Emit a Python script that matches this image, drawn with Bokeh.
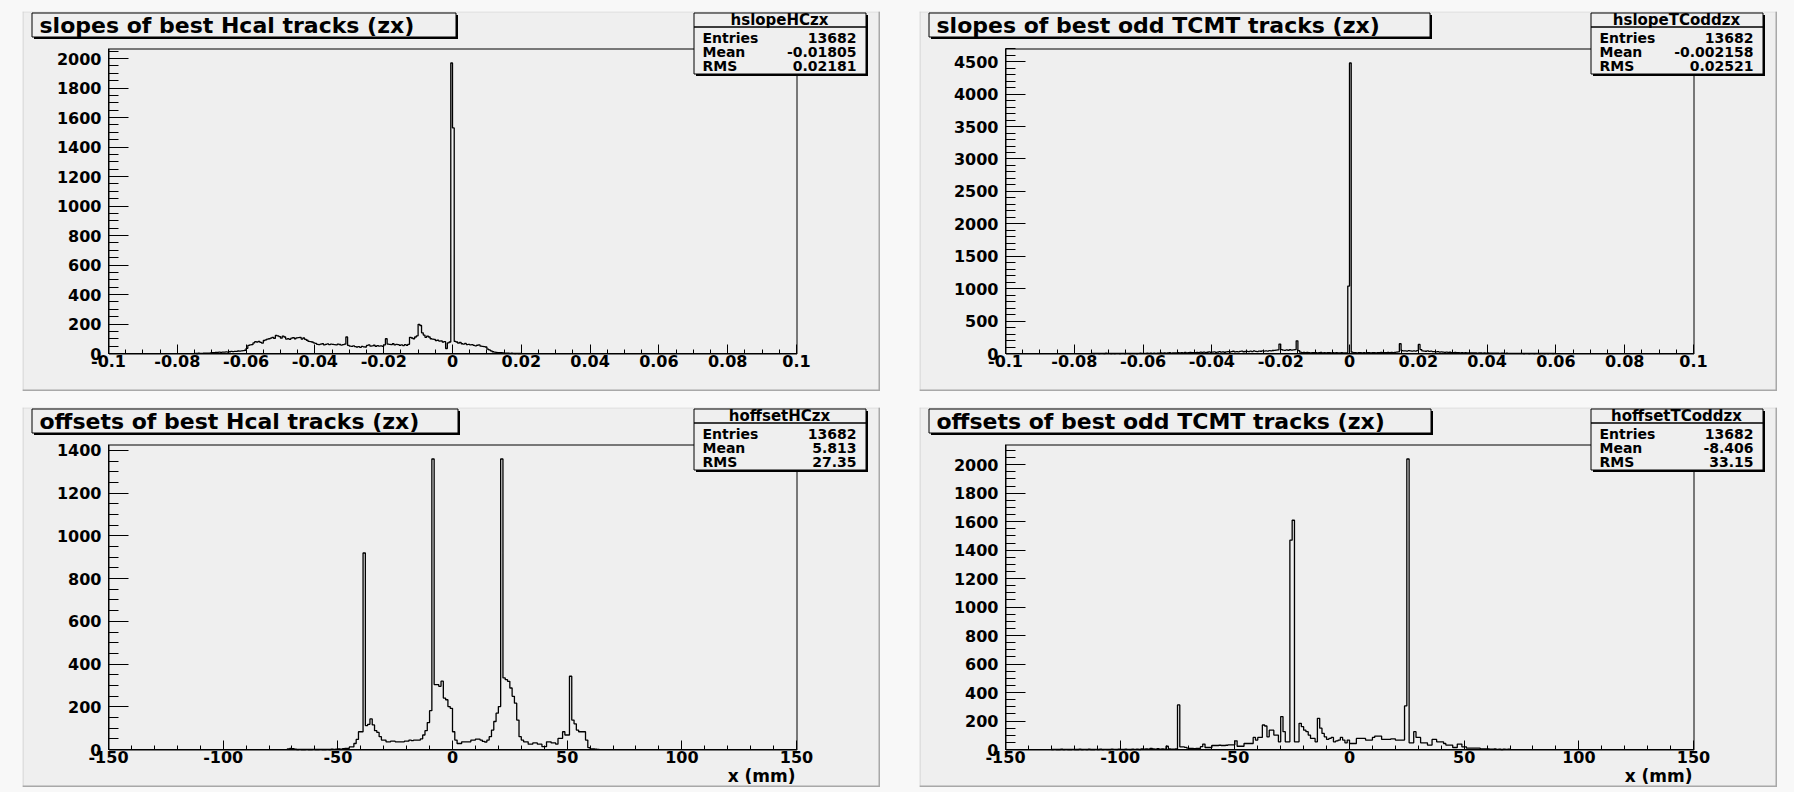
import numpy as np
from bokeh.plotting import figure
from bokeh.layouts import row, column
from bokeh.models import Range1d, FixedTicker, BoxAnnotation, Label
from bokeh.embed import file_html
from bokeh.resources import INLINE

# ---------------- data ----------------
slope_ticks = [-0.1, -0.08, -0.06, -0.04, -0.02, 0, 0.02, 0.04, 0.06, 0.08, 0.1]
slope_tick_labels = ["-0.1", "-0.08", "-0.06", "-0.04", "-0.02", "0", "0.02", "0.04", "0.06", "0.08", "0.1"]
offset_ticks = [-150, -100, -50, 0, 50, 100, 150]
offset_tick_labels = ["-150", "-100", "-50", "0", "50", "100", "150"]

slope_bin_width = 0.0005
offset_bin_width = 1.0

# hslopeHCzx : bins of 0.0005 starting at -0.075
hslopeHCzx_start = -0.075
hslopeHCzx_counts = [
    1, 0, 2, 1, 1, 2, 3, 2, 3, 4,
    5, 6, 8, 7, 9, 8, 10, 9, 11, 10,
    12, 14, 13, 15, 14, 17, 16, 18, 20, 22,
    35, 55, 58, 60, 72, 80, 78, 82, 75, 70,
    88, 92, 98, 100, 104, 110, 102, 122, 120, 115,
    104, 118, 112, 98, 100, 96, 104, 108, 100, 106,
    107, 110, 98, 105, 96, 90, 82, 80, 78, 72,
    68, 62, 60, 64, 66, 58, 62, 65, 60, 63,
    62, 60, 58, 64, 61, 57, 60, 63, 112, 55,
    50, 48, 52, 47, 44, 46, 42, 48, 45, 44,
    55, 58, 50, 52, 56, 48, 54, 50, 52, 49,
    58, 100, 64, 62, 60, 66, 58, 62, 60, 56,
    58, 54, 60, 56, 62, 110, 105, 100, 112, 120,
    198, 190, 140, 125, 110, 118, 112, 100, 98, 96,
    88, 90, 84, 86, 78, 80, 34, 72, 78, 1970,
    1530, 82, 78, 70, 76, 66, 64, 68, 60, 62,
    58, 60, 55, 52, 56, 58, 50, 48, 46, 44,
    30, 24, 18, 12, 10, 8, 6, 5, 6, 4,
    3, 2, 3, 1, 2, 1, 0, 1, 0, 0,
]

# hslopeTCoddzx : bins of 0.0005 starting at -0.075
hslopeTCoddzx_start = -0.075
hslopeTCoddzx_counts = [
    2, 0, 1, 3, 0, 1, 2, 0, 4, 1,
    1, 0, 2, 0, 1, 3, 0, 2, 1, 0,
    2, 1, 0, 3, 1, 2, 0, 1, 4, 2,
    3, 2, 5, 1, 4, 3, 6, 2, 5, 4,
    8, 5, 10, 6, 9, 12, 7, 11, 8, 10,
    12, 9, 14, 10, 16, 11, 13, 18, 12, 15,
    14, 18, 12, 20, 16, 22, 15, 19, 24, 17,
    20, 25, 18, 22, 28, 21, 26, 19, 24, 30,
    22, 28, 35, 24, 30, 26, 32, 38, 27, 31,
    34, 28, 36, 30, 40, 33, 29, 38, 35, 42,
    36, 40, 38, 44, 42, 46, 48, 52, 55, 145,
    60, 52, 48, 55, 50, 58, 52, 56, 60, 195,
    45, 20, 15, 18, 12, 16, 14, 10, 15, 12,
    14, 10, 12, 16, 11, 13, 10, 14, 12, 9,
    12, 10, 14, 11, 8, 12, 10, 9, 11, 1040,
    4480, 20, 12, 15, 10, 14, 12, 11, 13, 10,
    12, 14, 10, 13, 15, 11, 14, 12, 16, 13,
    14, 12, 16, 15, 18, 14, 16, 20, 24, 150,
    45, 40, 42, 38, 44, 40, 36, 42, 38, 45,
    140, 60, 42, 38, 35, 40, 32, 36, 30, 28,
    25, 28, 22, 24, 20, 18, 22, 16, 19, 15,
    14, 16, 12, 15, 11, 13, 10, 12, 9, 11,
    10, 8, 11, 9, 7, 10, 8, 6, 9, 7,
    8, 5, 7, 6, 4, 6, 5, 3, 5, 4,
    3, 4, 2, 3, 1, 2, 3, 1, 2, 1,
    2, 0, 1, 3, 0, 2, 1, 0, 1, 2,
    0, 1, 2, 0, 1, 0, 3, 1, 0, 1,
]

# hoffsetHCzx : 1 mm bins starting at -72 mm
hoffsetHCzx_start = -72
hoffsetHCzx_counts = [
    3, 5, 4, 2, 0, 1, 0, 0, 1, 0,
    0, 1, 0, 0, 1, 0, 0, 1, 0, 2,
    1, 2, 3, 2, 4, 5, 5, 12, 12, 28,
    47, 83, 83, 920, 112, 118, 143, 115, 88, 80,
    60, 44, 44, 36, 36, 39, 39, 36, 36, 36,
    36, 39, 39, 44, 42, 44, 44, 44, 50, 68,
    88, 126, 182, 1360, 304, 304, 296, 320, 241, 233,
    201, 193, 83, 44, 28, 28, 36, 36, 36, 36,
    44, 44, 49, 49, 44, 38, 35, 44, 60, 91,
    131, 170, 201, 1360, 335, 327, 319, 288, 249, 217,
    138, 60, 44, 36, 36, 25, 25, 31, 31, 25,
    25, 13, 13, 36, 36, 31, 31, 25, 52, 52,
    83, 68, 68, 343, 138, 120, 91, 83, 83, 83,
    44, 9, 3, 3, 2, 1,
]

# hoffsetTCoddzx : 1 mm bins starting at -130 mm
hoffsetTCoddzx_start = -130
hoffsetTCoddzx_counts = [
    0, 1, 0, 0, 2, 0, 1, 0, 0, 1,
    0, 0, 3, 0, 1, 0, 2, 0, 0, 1,
    0, 2, 0, 1, 0, 0, 3, 1, 0, 2,
    1, 0, 2, 1, 0, 3, 1, 2, 0, 4,
    2, 5, 3, 8, 4, 3, 6, 2, 4, 3,
    23, 5, 3, 2, 4, 313, 19, 19, 15, 10,
    7, 7, 6, 8, 7, 20, 38, 14, 14, 14,
    28, 28, 28, 30, 28, 28, 30, 33, 33, 33,
    61, 23, 23, 23, 42, 42, 42, 42, 85, 66,
    85, 85, 172, 165, 89, 136, 136, 101, 101, 54,
    231, 125, 54, 54, 1470, 1610, 54, 54, 184, 160,
    136, 125, 101, 78, 78, 54, 219, 150, 113, 89,
    71, 78, 85, 54, 60, 66, 85, 66, 47, 66,
    42, 42, 42, 78, 78, 78, 78, 66, 66, 66,
    85, 94, 94, 94, 71, 71, 71, 71, 75, 75,
    66, 66, 66, 66, 306, 2040, 47, 47, 125, 85,
    85, 47, 47, 47, 31, 31, 71, 71, 54, 54,
    54, 42, 31, 31, 31, 14, 14, 38, 38, 19,
    19, 9, 9, 9, 9, 9, 9, 5, 5, 5,
    4, 3, 2, 4, 1, 2, 0, 3, 1, 2,
]

pad_titles = ["slopes of best Hcal tracks (zx)", "slopes of best odd TCMT tracks (zx)",
              "offsets of best Hcal tracks (zx)", "offsets of best odd TCMT tracks (zx)"]
hist_names = ["hslopeHCzx", "hslopeTCoddzx", "hoffsetHCzx", "hoffsetTCoddzx"]
stat_entries = ["13682", "13682", "13682", "13682"]
stat_means = ["-0.01805", "-0.002158", "5.813", "-8.406"]
stat_rms = ["0.02181", "0.02521", "27.35", "33.15"]
x_axis_title = "x (mm)"

# ---------------- styling / layout ----------------
FONT = "DejaVu Sans"
PAD_COLOR = "#efefef"
FRAME_W, FRAME_H = 688, 305          # histogram frame inside each pad
B_LEFT, B_RIGHT, B_TOP, B_BOTTOM = 86, 84, 37, 38
PAD_W = B_LEFT + FRAME_W + B_RIGHT   # 858
PAD_H = B_TOP + FRAME_H + B_BOTTOM   # 380


def cbox(p, left, top, right, bottom, fill, line=None, lw=1):
    p.add_layout(BoxAnnotation(left=left, right=right, top=top, bottom=bottom,
                               left_units="canvas", right_units="canvas",
                               top_units="canvas", bottom_units="canvas",
                               fill_color=fill, fill_alpha=1.0 if fill else 0.0,
                               line_color=line, line_width=lw, line_alpha=1.0,
                               level="annotation"))


def clabel(p, x, y, text, size, align="left", baseline="middle"):
    p.add_layout(Label(x=x, y=y, x_units="canvas", y_units="canvas", text=text,
                       text_font=FONT, text_font_size=size, text_font_style="bold",
                       text_color="black", text_align=align, text_baseline=baseline))


def outline(start, width, counts):
    n = len(counts)
    edges = start + width * np.arange(n + 1)
    xs = np.repeat(edges, 2)
    ys = np.concatenate([[0.0], np.repeat(np.asarray(counts, dtype=float), 2), [0.0]])
    return xs, ys


def make_pad(title, name, entries, mean, rms, start, bw, counts,
             xrange, xticks, xlabels, xminor, ymajor, yminor, title_right, xtitle=None):
    xlo, xhi = xrange
    ymax = 1.05 * max(counts)
    dx = (xhi - xlo) / FRAME_W
    dy = ymax / FRAME_H
    # the plotting frame covers the whole pad; the histogram frame is placed inside it
    p = figure(frame_width=PAD_W, frame_height=PAD_H,
               min_border_left=0, min_border_right=0, min_border_top=0, min_border_bottom=0,
               x_range=Range1d(xlo - B_LEFT * dx, xhi + B_RIGHT * dx),
               y_range=Range1d(-B_BOTTOM * dy, ymax + B_TOP * dy),
               output_backend="svg", toolbar_location=None, title=None,
               background_fill_color=PAD_COLOR, border_fill_color=PAD_COLOR)
    p.grid.grid_line_color = None
    p.outline_line_color = None

    xs, ys = outline(start, bw, counts)
    p.line(xs, ys, line_color="black", line_width=1.3)

    # histogram frame (crisp, on pixel centres)
    cbox(p, B_LEFT + 0.5, B_TOP + 0.5, B_LEFT + FRAME_W + 0.5, B_TOP + FRAME_H + 0.5,
         None, "black", 1)

    # x axis
    xa = p.xaxis[0]
    xa.fixed_location = 0
    xa.bounds = (xlo, xhi)
    xa.ticker = FixedTicker(ticks=xticks,
                            minor_ticks=list(np.arange(xlo, xhi + xminor / 2, xminor)))
    xa.major_label_overrides = {t: l for t, l in zip(xticks, xlabels)}
    xa.major_tick_in, xa.major_tick_out = 9, 0
    xa.minor_tick_in, xa.minor_tick_out = 4, 0
    xa.major_label_standoff = 1
    # y axis
    ya = p.yaxis[0]
    ya.fixed_location = xlo
    ya.bounds = (0, ymax)
    yt = [int(v) for v in np.arange(0, ymax, ymajor)]
    ya.ticker = FixedTicker(ticks=yt, minor_ticks=list(np.arange(0, ymax, yminor)))
    ya.major_label_overrides = {t: str(t) for t in yt}
    ya.major_tick_in, ya.major_tick_out = 20, 0
    ya.minor_tick_in, ya.minor_tick_out = 10, 0
    ya.major_label_standoff = 7
    for ax in (xa, ya):
        ax.axis_line_color = "black"
        ax.major_tick_line_color = "black"
        ax.minor_tick_line_color = "black"
        ax.major_label_text_font = FONT
        ax.major_label_text_font_style = "bold"
        ax.major_label_text_font_size = "16px"
        ax.major_label_text_color = "black"

    # pad border (light top/left, dark bottom/right)
    cbox(p, 0, 0, PAD_W, 1, "#dcdcdc")
    cbox(p, 0, 0, 1, PAD_H, "#d0d0d0")
    cbox(p, PAD_W - 2, 0, PAD_W, PAD_H, "#a8a8a8")
    cbox(p, 0, PAD_H - 2, PAD_W, PAD_H, "#a8a8a8")

    # title box with shadow
    cbox(p, 11.5, 3.5, title_right + 2.5, 27.5, "#000000")
    cbox(p, 9.5, 1.5, title_right + 0.5, 25.5, PAD_COLOR, "black", 1)
    clabel(p, 17, 14, title, "22px")

    # stats box with shadow
    cbox(p, 673.5, 3.5, 845.5, 64.5, "#000000")
    cbox(p, 671.5, 1.5, 843.5, 62.5, PAD_COLOR, "black", 1)
    cbox(p, 671.5, 15.5, 843.5, 15.5, None, "black", 1)
    clabel(p, 757, 8.5, name, "15px", align="center")
    clabel(p, 680, 26.5, "Entries", "14px")
    clabel(p, 834, 26.5, entries, "14px", align="right")
    clabel(p, 680, 40.5, "Mean", "14px")
    clabel(p, 834, 40.5, mean, "14px", align="right")
    clabel(p, 680, 54.5, "RMS", "14px")
    clabel(p, 834, 54.5, rms, "14px", align="right")

    if xtitle:
        clabel(p, B_LEFT + FRAME_W - 1, 368, xtitle, "17px", align="right")
    return p


p1 = make_pad(pad_titles[0], hist_names[0], stat_entries[0], stat_means[0], stat_rms[0],
              hslopeHCzx_start, slope_bin_width, hslopeHCzx_counts,
              (-0.1, 0.1), slope_ticks, slope_tick_labels, 0.005, 200, 50, 433)
p2 = make_pad(pad_titles[1], hist_names[1], stat_entries[1], stat_means[1], stat_rms[1],
              hslopeTCoddzx_start, slope_bin_width, hslopeTCoddzx_counts,
              (-0.1, 0.1), slope_ticks, slope_tick_labels, 0.005, 500, 100, 510)
p3 = make_pad(pad_titles[2], hist_names[2], stat_entries[2], stat_means[2], stat_rms[2],
              hoffsetHCzx_start, offset_bin_width, hoffsetHCzx_counts,
              (-150, 150), offset_ticks, offset_tick_labels, 10, 200, 50, 435, x_axis_title)
p4 = make_pad(pad_titles[3], hist_names[3], stat_entries[3], stat_means[3], stat_rms[3],
              hoffsetTCoddzx_start, offset_bin_width, hoffsetTCoddzx_counts,
              (-150, 150), offset_ticks, offset_tick_labels, 10, 200, 50, 511, x_axis_title)

layout = column(row(p1, p2, spacing=39), row(p3, p4, spacing=39), spacing=16,
                margin=(11, 0, 0, 22))

html = file_html(layout, INLINE, title="ROOT histograms")
html = html.replace("<head>", "<head><style>html, body { background-color: #f8f8f8; }</style>", 1)
open("out.html", "w").write(html)
